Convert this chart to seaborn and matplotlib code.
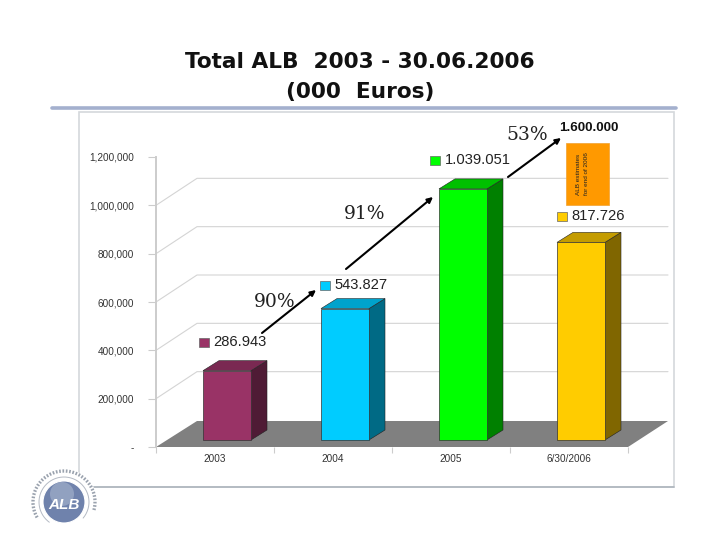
import matplotlib
matplotlib.use("Agg")
import matplotlib.pyplot as plt
import seaborn as sns
import pandas as pd
import numpy as np
from matplotlib.patches import Rectangle, Polygon, Circle
from matplotlib.transforms import Affine2D

sns.set_theme(style="white")
plt.rcParams['font.family'] = ['Liberation Sans', 'DejaVu Sans']

periods = ["2003", "2004", "2005", "6/30/2006"]
totals = [286943, 543827, 1039051, 817726]
value_labels = ["286.943", "543.827", "1.039.051", "817.726"]
y_ticks = [0, 200000, 400000, 600000, 800000, 1000000, 1200000]
y_tick_labels = ["-", "200,000", "400,000", "600,000", "800,000", "1,000,000", "1,200,000"]
back_lines = [200000, 400000, 600000, 800000, 1000000]
front_colors = ["#993366", "#00CCFF", "#00FF00", "#FFCC00"]
side_colors = ["#4F1B35", "#006A85", "#008000", "#806600"]
top_colors = ["#7A2952", "#00A3CC", "#00C000", "#C49C00"]

W, H = 720, 540
fig = plt.figure(figsize=(7.2, 5.4), dpi=100, facecolor="white")
PX = Affine2D().scale(1 / W, -1 / H).translate(0, 1) + fig.transFigure

# slide furniture (behind the axes)
fig.add_artist(Rectangle((79, 112), 595, 375, transform=PX, fc="white", ec="#D4D8DC", lw=1.2, zorder=-2))
fig.add_artist(plt.Line2D([94, 674], [486.5, 486.5], transform=PX, color="#AEB6BE", lw=1.2, zorder=-1))
fig.add_artist(plt.Line2D([52, 676], [107.5, 107.5], transform=PX, color="#A4B0CE", lw=2.6, zorder=-1))
fig.text(360, 62, "Total ALB  2003 - 30.06.2006", transform=PX, ha="center", va="center",
         fontsize=15.6, fontweight="bold", family="DejaVu Sans", color="#111111")
fig.text(360, 92, "(000  Euros)", transform=PX, ha="center", va="center",
         fontsize=15.6, fontweight="bold", family="DejaVu Sans", color="#111111")

# chart axes: y=0 at px 447, 1.2M at px 157; x from 156 to 628
ax = fig.add_axes([156 / W, 1 - 447 / H, 472 / W, 290 / H])
ax.patch.set_alpha(0)
xstep = 118.0
yscale = 290 / 1200000
dx = lambda p: p / xstep
dy = lambda p: p / yscale

base = dy(7)
df = pd.DataFrame({"period": periods, "total": totals})
bar_w = 48 / xstep
sns.barplot(data=df, x="period", y="total", hue="period", palette=front_colors, legend=False,
            width=bar_w, bottom=base, ax=ax, saturation=1, edgecolor="#333333", linewidth=0.5, zorder=5)
x0 = -71 / xstep
ax.set_xlim(x0, x0 + 4)
ax.set_ylim(0, 1200000)
ax.set_xlabel("")
ax.set_ylabel("")

# floor and back wall
floor = Polygon([(x0, 0), (x0 + dx(41), dy(26)), (x0 + dx(512), dy(26)), (x0 + 4, 0)],
                closed=True, fc="#808080", ec="none", zorder=2, clip_on=False)
ax.add_patch(floor)
for v in back_lines:
    ax.plot([x0, x0 + dx(41), x0 + dx(512)], [v, v + dy(27), v + dy(27)], color="#D4D4D4",
            lw=0.8, zorder=1, clip_on=False)

# 3-D faces of bars
for i, v in enumerate(totals):
    l, r = i - bar_w / 2, i + bar_w / 2
    t = base + v
    ax.add_patch(Polygon([(r, base), (r + dx(16), base + dy(10)), (r + dx(16), t + dy(10)), (r, t)],
                         closed=True, fc=side_colors[i], ec="#222222", lw=0.4, zorder=4, clip_on=False))
    ax.add_patch(Polygon([(l, t), (l + dx(16), t + dy(10)), (r + dx(16), t + dy(10)), (r, t)],
                         closed=True, fc=top_colors[i], ec="#222222", lw=0.4, zorder=4, clip_on=False))

# axes styling
sns.despine(ax=ax, top=True, right=True)
ax.spines["left"].set_color("#CCCCCC")
ax.spines["left"].set_linewidth(1.4)
ax.spines["bottom"].set_visible(False)
ax.set_yticks(y_ticks)
ax.set_yticklabels(y_tick_labels)
ax.tick_params(axis="y", left=True, length=6, width=0.8, color="#CCCCCC", labelsize=7.2,
               labelcolor="#333333", pad=10)
ax.set_xticks([i - 12 / xstep for i in range(4)])
ax.set_xticklabels(periods)
ax.set_xticks([x0 + k for k in range(5)], minor=True)
ax.tick_params(axis="x", which="major", bottom=False, length=0, labelsize=7.2, labelcolor="#333333", pad=5)
ax.tick_params(axis="x", which="minor", bottom=True, length=4.5, width=0.8, color="#CCCCCC")

# value labels with small colour keys
key_x = [199, 320, 430, 557]
key_y = [342, 285, 160, 216]
for kx, ky, c, s in zip(key_x, key_y, front_colors, value_labels):
    fig.add_artist(Rectangle((kx, ky - 4.5), 10, 9, transform=PX, fc=c, ec="#666666", lw=0.5, zorder=8))
    fig.text(kx + 14.5, ky, s, transform=PX, ha="left", va="center", fontsize=10.6, color="#222222", zorder=8)

# estimate box
fig.add_artist(Rectangle((566, 143), 43, 62, transform=PX, fc="#FF9900", ec="#F0A030", lw=0.5, zorder=8))
fig.text(578, 174, "ALB estimates", transform=PX, rotation=90, ha="center", va="center",
         fontsize=4.6, color="#222222", zorder=9)
fig.text(587, 174, "for end of 2006", transform=PX, rotation=90, ha="center", va="center",
         fontsize=4.6, color="#222222", zorder=9)
fig.text(589, 128, "1.600.000", transform=PX, ha="center", va="center", fontsize=9.6,
         fontweight="bold", color="#111111", zorder=9)

# growth arrows
growth = ["90%", "91%", "53%"]
growth_pos = [(275, 302), (365, 214), (527, 135)]
arrows = [((262, 333), (316, 290)), ((346, 269), (433, 197)), ((508, 177), (561, 138))]
for s, p, (a, b) in zip(growth, growth_pos, arrows):
    fig.text(p[0], p[1], s, transform=PX, ha="center", va="center", fontsize=13.5,
             family="DejaVu Serif", color="#222222", zorder=10)
    fig.add_artist(matplotlib.patches.FancyArrowPatch(a, b, transform=PX, arrowstyle="-|>", mutation_scale=8,
                                                      lw=1.5, color="black", shrinkA=0, shrinkB=0, zorder=10))

# logo
lx, ly = 64, 502
fig.add_artist(Circle((lx, ly), 33, transform=PX, fc="white", ec="none", zorder=7))
ang = np.radians(np.arange(-15, 215, 2))
fig.add_artist(plt.Line2D(lx + 31 * np.cos(ang), ly - 31 * np.sin(ang), transform=PX, color="#9AA2AE",
                          lw=2.4, ls=(0, (0.5, 0.5)), zorder=8))
ang2 = np.radians(np.arange(-40, 235, 2))
fig.add_artist(plt.Line2D(lx + 25 * np.cos(ang2), ly - 25 * np.sin(ang2), transform=PX, color="#B4BAC4",
                          lw=0.7, zorder=8))
fig.add_artist(Circle((lx, ly), 21, transform=PX, fc="#6F82AC", ec="#FFFFFF", lw=0.8, zorder=9))
fig.add_artist(Circle((lx - 2, ly - 8), 12, transform=PX, fc="#A9B6CF", ec="none", alpha=0.6, zorder=9))
fig.text(lx, ly + 3, "ALB", transform=PX, ha="center", va="center", fontsize=11, fontweight="bold",
         fontstyle="italic", color="white", zorder=10)

fig.savefig("out.png", dpi=100, facecolor="white")
